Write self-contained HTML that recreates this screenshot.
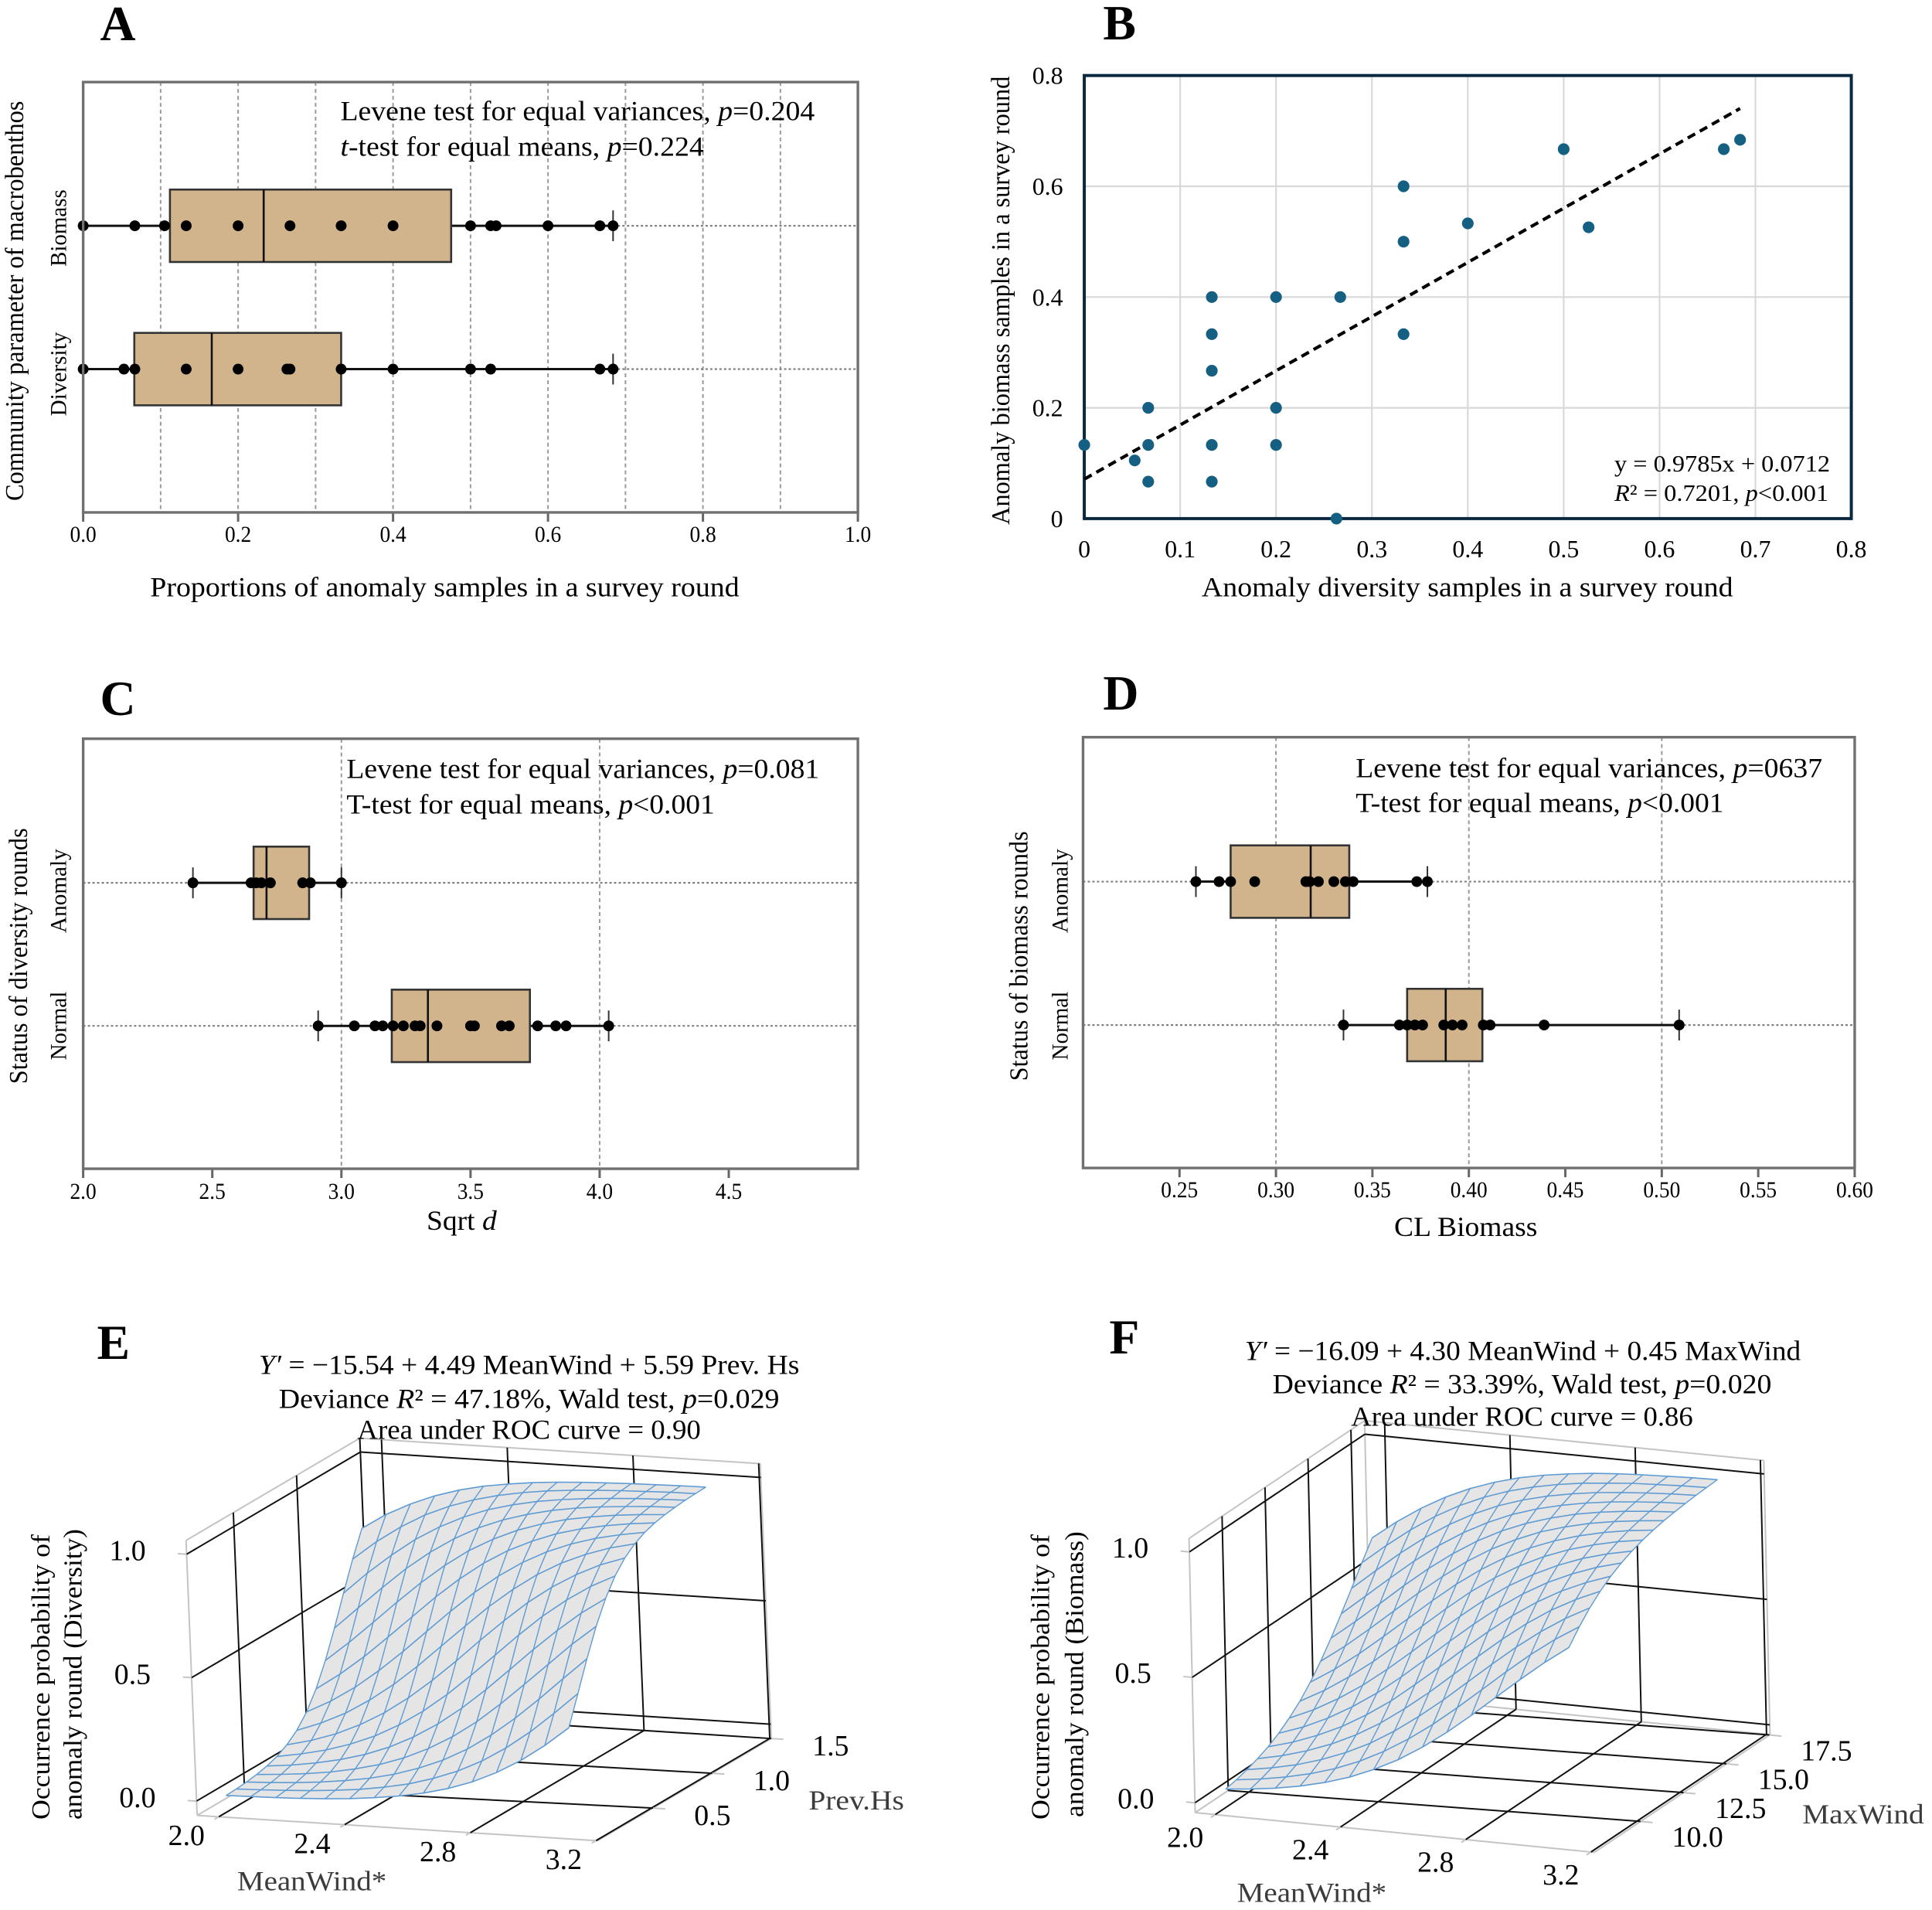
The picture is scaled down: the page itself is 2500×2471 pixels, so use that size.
<!DOCTYPE html>
<html lang="en">
<head>
<meta charset="utf-8">
<title>Anomaly survey rounds, six-panel figure</title>
<style>
html,body{margin:0;padding:0;background:#fff;}
svg{display:block;}
text{font-family:"Liberation Serif",serif;fill:#000;}
.panel-letter{font-size:64px;font-weight:bold;}
.note{font-size:36px;}
.title{font-size:36px;}
.side{font-size:34px;}
.cat{font-size:30px;}
.gray{fill:#3c3c3c;}
</style>
</head>
<body>
<svg id="figure" xmlns="http://www.w3.org/2000/svg" width="2500" height="2471" viewBox="0 0 2500 2471">
<rect width="2500" height="2471" fill="#fff"/>

<!-- Panel A -->
<g transform="scale(.9965,.9969)">
<g id="marks-a"></g>
<text class="panel-letter" x="130" y="52">A</text>
<text class="note" x="442" y="156" textLength="616" lengthAdjust="spacingAndGlyphs">Levene test for equal variances, <tspan font-style="italic">p</tspan>=0.204</text>
<text class="note" x="442" y="202" textLength="472" lengthAdjust="spacingAndGlyphs"><tspan font-style="italic">t</tspan>-test for equal means, <tspan font-style="italic">p</tspan>=0.224</text>
<text class="title" x="195" y="774" textLength="765" lengthAdjust="spacingAndGlyphs">Proportions of anomaly samples in a survey round</text>
<text class="side" transform="translate(30,650) rotate(-90)" textLength="519" lengthAdjust="spacingAndGlyphs">Community parameter of macrobenthos</text>
<text class="cat" transform="translate(86,346) rotate(-90)" textLength="100" lengthAdjust="spacingAndGlyphs">Biomass</text>
<text class="cat" transform="translate(86,540) rotate(-90)" textLength="109" lengthAdjust="spacingAndGlyphs">Diversity</text>
</g>

<!-- Panel B -->
<g transform="translate(1250,0) scale(.9965,.9969) translate(-1250,0)">
<g id="marks-b"></g>
<text class="panel-letter" x="1428" y="51">B</text>
<text class="title" x="1556" y="774" textLength="690" lengthAdjust="spacingAndGlyphs">Anomaly diversity samples in a survey round</text>
<text class="side" transform="translate(1306,681) rotate(-90)" textLength="582" lengthAdjust="spacingAndGlyphs">Anomaly biomass samples in a survey round</text>
<text x="2092" y="612" font-size="31" textLength="280" lengthAdjust="spacingAndGlyphs">y = 0.9785x + 0.0712</text>
<text x="2092" y="650" font-size="31" textLength="278" lengthAdjust="spacingAndGlyphs"><tspan font-style="italic">R</tspan>² = 0.7201, <tspan font-style="italic">p</tspan>&lt;0.001</text>
</g>

<!-- Panel C -->
<g transform="translate(0,860) scale(.9965,.997) translate(0,-860)">
<g id="marks-c"></g>
<text class="panel-letter" x="130" y="925">C</text>
<text class="note" x="450" y="1007" textLength="614" lengthAdjust="spacingAndGlyphs">Levene test for equal variances, <tspan font-style="italic">p</tspan>=0.081</text>
<text class="note" x="450" y="1053" textLength="478" lengthAdjust="spacingAndGlyphs">T-test for equal means, <tspan font-style="italic">p</tspan>&lt;0.001</text>
<text class="title" x="554" y="1593" textLength="91" lengthAdjust="spacingAndGlyphs">Sqrt <tspan font-style="italic">d</tspan></text>
<text class="side" transform="translate(35,1404) rotate(-90)" textLength="332" lengthAdjust="spacingAndGlyphs">Status of diversity rounds</text>
<text class="cat" transform="translate(86,1208) rotate(-90)" textLength="109" lengthAdjust="spacingAndGlyphs">Anomaly</text>
<text class="cat" transform="translate(86,1373) rotate(-90)" textLength="89" lengthAdjust="spacingAndGlyphs">Normal</text>
</g>

<!-- Panel D -->
<g transform="translate(1250,860) scale(.9965,.997) translate(-1250,-860)">
<g id="marks-d"></g>
<text class="panel-letter" x="1428" y="918">D</text>
<text class="note" x="1756" y="1006" textLength="606" lengthAdjust="spacingAndGlyphs">Levene test for equal variances, <tspan font-style="italic">p</tspan>=0637</text>
<text class="note" x="1756" y="1051" textLength="478" lengthAdjust="spacingAndGlyphs">T-test for equal means, <tspan font-style="italic">p</tspan>&lt;0.001</text>
<text class="title" x="1806" y="1601" textLength="186" lengthAdjust="spacingAndGlyphs">CL Biomass</text>
<text class="side" transform="translate(1330,1400) rotate(-90)" textLength="324" lengthAdjust="spacingAndGlyphs">Status of biomass rounds</text>
<text class="cat" transform="translate(1382,1208) rotate(-90)" textLength="109" lengthAdjust="spacingAndGlyphs">Anomaly</text>
<text class="cat" transform="translate(1382,1373) rotate(-90)" textLength="89" lengthAdjust="spacingAndGlyphs">Normal</text>
</g>

<!-- Panel E -->
<g>
<g id="marks-e" transform="translate(0,1680) scale(.9965,.997) translate(0,-1680)"></g>
<g id="surface-e"></g>
<g transform="translate(0,1680) scale(.9965,.997) translate(0,-1680)">
<text class="panel-letter" x="126" y="1758">E</text>
<text class="title" x="336" y="1778" textLength="702" lengthAdjust="spacingAndGlyphs"><tspan font-style="italic">Y′</tspan> = −15.54 + 4.49 MeanWind + 5.59 Prev. Hs</text>
<text class="title" x="362" y="1822" textLength="650" lengthAdjust="spacingAndGlyphs">Deviance <tspan font-style="italic">R</tspan>² = 47.18%, Wald test, <tspan font-style="italic">p</tspan>=0.029</text>
<text class="title" x="464" y="1862" textLength="446" lengthAdjust="spacingAndGlyphs">Area under ROC curve = 0.90</text>
<text class="side" transform="translate(64,2356) rotate(-90)" textLength="370" lengthAdjust="spacingAndGlyphs">Occurrence probability of</text>
<text class="side" transform="translate(106,2356) rotate(-90)" textLength="377" lengthAdjust="spacingAndGlyphs">anomaly round (Diversity)</text>
<text class="title gray" x="308" y="2448" textLength="194" lengthAdjust="spacingAndGlyphs">MeanWind*</text>
<text class="title gray" x="1050" y="2343" textLength="124" lengthAdjust="spacingAndGlyphs">Prev.Hs</text>
</g>
</g>

<!-- Panel F -->
<g>
<g id="marks-f" transform="translate(1250,1680) scale(.9965,.997) translate(-1250,-1680)"></g>
<g id="surface-f"></g>
<g transform="translate(1250,1680) scale(.9965,.997) translate(-1250,-1680)">
<text class="panel-letter" x="1436" y="1751">F</text>
<text class="title" x="1612" y="1760" textLength="722" lengthAdjust="spacingAndGlyphs"><tspan font-style="italic">Y′</tspan> = −16.09 + 4.30 MeanWind + 0.45 MaxWind</text>
<text class="title" x="1648" y="1803" textLength="648" lengthAdjust="spacingAndGlyphs">Deviance <tspan font-style="italic">R</tspan>² = 33.39%, Wald test, <tspan font-style="italic">p</tspan>=0.020</text>
<text class="title" x="1750" y="1845" textLength="444" lengthAdjust="spacingAndGlyphs">Area under ROC curve = 0.86</text>
<text class="side" transform="translate(1358,2356) rotate(-90)" textLength="370" lengthAdjust="spacingAndGlyphs">Occurrence probability of</text>
<text class="side" transform="translate(1402,2353) rotate(-90)" textLength="371" lengthAdjust="spacingAndGlyphs">anomaly round (Biomass)</text>
<text class="title gray" x="1602" y="2463" textLength="194" lengthAdjust="spacingAndGlyphs">MeanWind*</text>
<text class="title gray" x="2336" y="2361" textLength="158" lengthAdjust="spacingAndGlyphs">MaxWind</text>
</g>
</g>
</svg>

<script>
// ---------- Panel A data ----------
const aBiomassBox = [0.112, 0.233, 0.475];
const aBiomassWhisker = [0, 0.684];
const aBiomassPoints = [0, 0.0667, 0.105, 0.133, 0.2, 0.267, 0.333, 0.4, 0.5, 0.526, 0.533, 0.6, 0.667, 0.684];
const aDiversityBox = [0.066, 0.166, 0.333];
const aDiversityWhisker = [0, 0.684];
const aDiversityPoints = [0, 0.0526, 0.0667, 0.133, 0.2, 0.263, 0.267, 0.333, 0.4, 0.5, 0.526, 0.667, 0.684];
const aGridValues = [0.1, 0.2, 0.3, 0.4, 0.5, 0.6, 0.7, 0.8, 0.9];
const aTickValues = [0.0, 0.2, 0.4, 0.6, 0.8, 1.0];

// ---------- Panel B data ----------
const bDiversity = [0, 0.0526, 0.0667, 0.0667, 0.0667, 0.133, 0.133, 0.133, 0.133, 0.133, 0.2, 0.2, 0.2, 0.263, 0.267, 0.333, 0.333, 0.333, 0.4, 0.5, 0.526, 0.667, 0.684];
const bBiomass = [0.133, 0.105, 0.0667, 0.133, 0.2, 0.0667, 0.133, 0.267, 0.333, 0.4, 0.133, 0.2, 0.4, 0, 0.4, 0.333, 0.5, 0.6, 0.533, 0.667, 0.526, 0.667, 0.684];
const bTrendCoefficients = [0.9785, 0.0712];
const bTrendRange = [0, 0.684];
const bXTicks = [0, 0.1, 0.2, 0.3, 0.4, 0.5, 0.6, 0.7, 0.8];
const bYTicks = [0, 0.2, 0.4, 0.6, 0.8];

// ---------- Panel C data ----------
const cAnomalyBox = [2.66, 2.71, 2.875];
const cAnomalyWhisker = [2.425, 3.0];
const cAnomalyPoints = [2.425, 2.65, 2.67, 2.69, 2.725, 2.85, 2.88, 3.0];
const cNormalBox = [3.195, 3.335, 3.73];
const cNormalWhisker = [2.91, 4.035];
const cNormalPoints = [2.91, 3.05, 3.13, 3.16, 3.2, 3.24, 3.285, 3.305, 3.37, 3.5, 3.515, 3.62, 3.65, 3.76, 3.83, 3.87, 4.035];
const cGridValues = [3.0, 4.0];
const cTickValues = [2.0, 2.5, 3.0, 3.5, 4.0, 4.5];

// ---------- Panel D data ----------
const dAnomalyBox = [0.2765, 0.318, 0.338];
const dAnomalyWhisker = [0.2585, 0.3785];
const dAnomalyPoints = [0.2585, 0.2705, 0.2765, 0.289, 0.3155, 0.3175, 0.322, 0.33, 0.336, 0.34, 0.373, 0.3785];
const dNormalBox = [0.368, 0.388, 0.407];
const dNormalWhisker = [0.335, 0.509];
const dNormalPoints = [0.335, 0.364, 0.368, 0.372, 0.376, 0.387, 0.3915, 0.3965, 0.4075, 0.411, 0.439, 0.509];
const dGridValues = [0.30, 0.40, 0.50];
const dTickValues = [0.25, 0.30, 0.35, 0.40, 0.45, 0.50, 0.55, 0.60];

// ---------- Panel E data ----------
const eMeanWindGrid = [1.984, 2.062, 2.141, 2.219, 2.298, 2.376, 2.454, 2.533, 2.611, 2.690, 2.768, 2.846, 2.925, 3.003, 3.082];
const ePrevHsGrid = [0.133, 0.219, 0.305, 0.391, 0.478, 0.564, 0.650, 0.736, 0.823, 0.909, 0.995, 1.081, 1.167, 1.254, 1.340];
const eProbability = [
[.004,.006,.008,.011,.016,.023,.033,.046,.064,.089,.122,.166,.221,.288,.366],
[.006,.009,.013,.018,.026,.036,.051,.071,.099,.135,.182,.241,.312,.393,.480],
[.010,.014,.020,.029,.041,.057,.079,.110,.149,.200,.263,.337,.421,.509,.596],
[.016,.023,.032,.045,.064,.088,.121,.165,.219,.286,.364,.449,.537,.624,.703],
[.026,.036,.051,.071,.098,.134,.181,.240,.310,.391,.478,.566,.650,.726,.791],
[.040,.057,.079,.109,.148,.199,.261,.335,.418,.506,.594,.676,.748,.809,.858],
[.063,.087,.120,.163,.218,.284,.361,.446,.535,.621,.701,.769,.826,.872,.906],
[.097,.133,.179,.238,.308,.388,.475,.563,.648,.724,.789,.842,.884,.916,.939],
[.147,.197,.259,.333,.416,.504,.591,.674,.746,.808,.857,.895,.924,.945,.961],
[.216,.282,.359,.444,.532,.619,.698,.768,.825,.870,.906,.932,.951,.965,.975],
[.306,.386,.473,.561,.646,.722,.788,.841,.883,.915,.939,.956,.969,.978,.984],
[.413,.501,.589,.672,.745,.806,.856,.894,.923,.945,.961,.972,.980,.986,.990],
[.530,.617,.696,.766,.823,.869,.905,.931,.951,.965,.975,.982,.988,.991,.994],
[.643,.720,.786,.840,.882,.914,.938,.956,.969,.978,.984,.989,.992,.995,.996],
[.743,.805,.854,.893,.923,.945,.960,.972,.980,.986,.990,.993,.995,.997,.998]
];
const eXTicks = [2.0, 2.4, 2.8, 3.2];
const eDepthTicks = [0.5, 1.0, 1.5];
const eZTicks = [0.0, 0.5, 1.0];

// ---------- Panel F data ----------
const fMeanWindGrid = [1.984, 2.063, 2.142, 2.221, 2.300, 2.379, 2.457, 2.536, 2.615, 2.694, 2.773, 2.852, 2.931, 3.010, 3.089];
const fMaxWindGrid = [8.18, 8.80, 9.42, 10.04, 10.66, 11.28, 11.90, 12.53, 13.15, 13.77, 14.39, 15.01, 15.63, 16.25, 16.88];
const fProbability = [
[.027,.037,.050,.068,.092,.123,.163,.212,.272,.341,.418,.499,.580,.657,.727],
[.035,.048,.066,.089,.119,.158,.207,.266,.334,.410,.491,.572,.650,.720,.781],
[.047,.064,.086,.116,.154,.201,.259,.327,.402,.483,.564,.642,.713,.775,.827],
[.062,.084,.113,.150,.196,.253,.320,.394,.475,.556,.635,.707,.770,.822,.865],
[.081,.109,.146,.191,.247,.312,.387,.466,.548,.627,.700,.764,.818,.861,.896],
[.106,.141,.186,.241,.305,.379,.458,.540,.619,.693,.758,.813,.857,.893,.920],
[.138,.181,.235,.298,.371,.450,.531,.611,.686,.752,.807,.853,.890,.918,.939],
[.176,.229,.292,.363,.442,.523,.603,.679,.745,.802,.849,.886,.915,.938,.954],
[.223,.285,.356,.434,.515,.596,.671,.739,.797,.845,.883,.913,.936,.953,.965],
[.278,.348,.426,.507,.588,.664,.733,.792,.840,.880,.910,.934,.951,.964,.974],
[.341,.417,.498,.580,.657,.726,.786,.836,.876,.907,.932,.950,.963,.973,.980],
[.410,.490,.571,.649,.720,.781,.831,.873,.905,.929,.948,.962,.972,.980,.985],
[.482,.563,.642,.713,.775,.827,.869,.902,.927,.946,.961,.971,.979,.985,.989],
[.555,.634,.706,.769,.822,.865,.899,.925,.945,.960,.970,.979,.984,.989,.992],
[.626,.699,.763,.817,.861,.896,.923,.943,.958,.970,.978,.984,.988,.992,.994]
];
const fXTicks = [2.0, 2.4, 2.8, 3.2];
const fDepthTicks = [10.0, 12.5, 15.0, 17.5];
const fZTicks = [0.0, 0.5, 1.0];

// ---------- Drawing helpers ----------
const NS = 'http://www.w3.org/2000/svg';
function mk(parent, tag, name, attrs, text) {
  const e = document.createElementNS(NS, tag);
  
  
  for (const k in attrs) e.setAttribute(k, attrs[k]);
  if (text !== undefined) e.textContent = text;
  parent.appendChild(e);
  return e;
}
function line(parent, name, x1, y1, x2, y2, stroke, width, dash) {
  const a = {x1: x1, y1: y1, x2: x2, y2: y2, stroke: stroke, 'stroke-width': width};
  if (dash) a['stroke-dasharray'] = dash;
  return mk(parent, 'line', name, a);
}
function linear(d0, d1, r0, r1) {
  return v => r0 + (v - d0) * (r1 - r0) / (d1 - d0);
}

// ---------- Horizontal box plot panels ----------
function boxPanel(c) {
  const g = document.getElementById(c.id);
  const sx = linear(c.domain[0], c.domain[1], c.left, c.right);
  c.gridValues.forEach(v => {
    line(g, 'vertical-gridline', sx(v), c.top, sx(v), c.bottom, '#9a9a9a', 2, '5 4');
  });
  c.tickValues.forEach(v => {
    line(g, 'x-axis-tick', sx(v), c.bottom, sx(v), c.bottom + 12, '#666', 3);
    const label = v.toFixed(c.digits);
    const widthEm = (label.length - 1) * 0.5 + 0.25;
    mk(g, 'text', 'x-tick-label', {
      x: sx(v), y: c.tickBaseline, 'text-anchor': 'middle', 'font-size': 30,
      textLength: (widthEm * 27.5).toFixed(1), lengthAdjust: 'spacingAndGlyphs'
    }, label);
  });
  c.groups.forEach(s => {
    const cy = s.y;
    const lo = sx(s.whisker[0]), hi = sx(s.whisker[1]);
    if (lo > c.left + 1) line(g, 'group-reference-line-left', c.left, cy, lo, cy, '#808080', 2.2, '3 3');
    line(g, 'group-reference-line-right', hi, cy, c.right, cy, '#808080', 2.2, '3 3');
    line(g, 'whisker-line', lo, cy, hi, cy, '#111', 3);
    line(g, 'whisker-cap-low', lo, cy - 20, lo, cy + 20, '#333', 2);
    line(g, 'whisker-cap-high', hi, cy - 20, hi, cy + 20, '#333', 2);
    mk(g, 'rect', 'box-' + s.name, {
      x: sx(s.box[0]), y: cy - c.half, width: sx(s.box[2]) - sx(s.box[0]), height: c.half * 2,
      fill: '#d2b48c', stroke: '#333', 'stroke-width': 2.6
    });
    line(g, 'median-line-' + s.name, sx(s.box[1]), cy - c.half, sx(s.box[1]), cy + c.half, '#111', 2.6);
    s.points.forEach(p => {
      mk(g, 'circle', 'data-point-' + s.name, {cx: sx(p), cy: cy, r: 7, fill: '#000'});
    });
  });
  mk(g, 'rect', 'plot-frame', {
    x: c.left, y: c.top, width: c.right - c.left, height: c.bottom - c.top,
    fill: 'none', stroke: '#707070', 'stroke-width': 3.4
  });
}

boxPanel({
  id: 'marks-a', left: 108, right: 1114, top: 106.5, bottom: 665, domain: [0, 1],
  half: 47, gridValues: aGridValues, tickValues: aTickValues, digits: 1, tickBaseline: 703,
  groups: [
    {name: 'biomass', y: 293, box: aBiomassBox, whisker: aBiomassWhisker, points: aBiomassPoints},
    {name: 'diversity', y: 479, box: aDiversityBox, whisker: aDiversityWhisker, points: aDiversityPoints}
  ]
});
boxPanel({
  id: 'marks-c', left: 108, right: 1114, top: 956, bottom: 1514, domain: [2, 5],
  half: 47, gridValues: cGridValues, tickValues: cTickValues, digits: 1, tickBaseline: 1553,
  groups: [
    {name: 'anomaly', y: 1143, box: cAnomalyBox, whisker: cAnomalyWhisker, points: cAnomalyPoints},
    {name: 'normal', y: 1328.6, box: cNormalBox, whisker: cNormalWhisker, points: cNormalPoints}
  ]
});
boxPanel({
  id: 'marks-d', left: 1402, right: 2404, top: 954, bottom: 1513, domain: [0.2, 0.6],
  half: 47, gridValues: dGridValues, tickValues: dTickValues, digits: 2, tickBaseline: 1551,
  groups: [
    {name: 'anomaly', y: 1141.4, box: dAnomalyBox, whisker: dAnomalyWhisker, points: dAnomalyPoints},
    {name: 'normal', y: 1327.5, box: dNormalBox, whisker: dNormalWhisker, points: dNormalPoints}
  ]
});

// ---------- Panel B scatter ----------
(function () {
  const g = document.getElementById('marks-b');
  const sx = linear(0, 0.8, 1403.6, 2399.6);
  const sy = linear(0, 0.8, 673, 98);
  const fmt = v => (v === 0 ? '0' : String(v));
  bXTicks.forEach(v => {
    if (v > 0 && v < 0.8) line(g, 'vertical-gridline', sx(v), sy(0), sx(v), sy(0.8), '#d9d9d9', 2.2);
    mk(g, 'text', 'x-tick-label', {x: sx(v), y: 723, 'text-anchor': 'middle', 'font-size': 32}, fmt(v));
  });
  bYTicks.forEach(v => {
    if (v > 0 && v < 0.8) line(g, 'horizontal-gridline', sx(0), sy(v), sx(0.8), sy(v), '#d9d9d9', 2.2);
    mk(g, 'text', 'y-tick-label', {x: 1376, y: sy(v) + 11, 'text-anchor': 'end', 'font-size': 32}, fmt(v));
  });
  mk(g, 'rect', 'plot-frame', {
    x: sx(0), y: sy(0.8), width: sx(0.8) - sx(0), height: sy(0) - sy(0.8),
    fill: 'none', stroke: '#0b2840', 'stroke-width': 4
  });
  const t0 = bTrendRange[0], t1 = bTrendRange[1];
  const trendY = v => bTrendCoefficients[0] * v + bTrendCoefficients[1];
  line(g, 'trend-line', sx(t0), sy(trendY(t0)), sx(t1), sy(trendY(t1)), '#000', 4.2, '11 7');
  bDiversity.forEach((v, i) => {
    mk(g, 'circle', 'data-point', {cx: sx(v), cy: sy(bBiomass[i]), r: 7.6, fill: '#156082'});
  });
})();

// ---------- 3-D surface panels ----------
function surfacePanel(c) {
  const g = document.getElementById(c.id);
  const sg = document.getElementById(c.surfaceId);
  const U = linear(c.xDomain[0], c.xDomain[1], 0, 1);
  const V = linear(c.dDomain[0], c.dDomain[1], 0, 1);
  const W = linear(c.zDomain[0], c.zDomain[1], 0, 1);
  const P = (u, v, w) => [
    c.o[0] + u * c.ex[0] + v * c.ey[0] + w * c.ez[0],
    c.o[1] + u * c.ex[1] + v * c.ey[1] + w * c.ez[1]
  ];
  const seg = (name, a, b, col, wd) => line(g, name, a[0], a[1], b[0], b[1], col, wd);
  const light = '#c4c4c4';
  // light box outline
  seg('box-edge', P(0, 0, 0), P(1, 0, 0), light, 2);
  seg('box-edge', P(1, 0, 0), P(1, 1, 0), light, 2);
  seg('box-edge', P(0, 1, 0), P(1, 1, 0), light, 2);
  seg('box-edge', P(0, 0, 0), P(0, 1, 0), light, 2);
  seg('box-edge', P(0, 0, 0), P(0, 0, 1), light, 2);
  seg('box-edge', P(0, 0, 1), P(0, 1, 1), light, 2);
  seg('box-edge', P(0, 1, 1), P(1, 1, 1), light, 2);
  seg('box-edge', P(1, 1, 0), P(1, 1, 1), light, 2);
  seg('box-edge', P(0, 1, 0), P(0, 1, 1), light, 2);
  // black grid on floor and walls
  const black = '#111';
  c.xTicks.forEach(x => {
    const u = U(x);
    seg('floor-gridline-x', P(u, 0, 0), P(u, 1, 0), black, 2);
    seg('back-wall-gridline-x', P(u, 1, 0), P(u, 1, 1), black, 2);
    seg('x-axis-tick', P(u, 0, 0), P(u, -0.025, 0), light, 2);
    const a = P(u, 0, 0);
    mk(g, 'text', 'x-tick-label', {x: a[0] + c.xLabel[0], y: a[1] + c.xLabel[1], 'text-anchor': 'middle', 'font-size': 38}, x.toFixed(1));
  });
  c.dTicks.forEach(d => {
    const v = V(d);
    const vLeft = c.leftDepth(v);
    seg('floor-gridline-depth', P(0, vLeft, 0), P(1, v, 0), black, 2);
    seg('left-wall-gridline-depth', P(0, vLeft, 0), P(0, vLeft, 1), black, 2);
    seg('depth-axis-tick', P(1, v, 0), P(1.03, v, 0), light, 2);
    const a = P(1, v, 0);
    mk(g, 'text', 'depth-tick-label', {x: a[0] + c.dLabel[0], y: a[1] + c.dLabel[1], 'text-anchor': 'middle', 'font-size': 38}, d.toFixed(1));
  });
  c.zTicks.forEach(z => {
    const w = W(z);
    seg('left-wall-gridline-z', P(0, 0, w), P(0, 1, w), black, 2);
    seg('back-wall-gridline-z', P(0, 1, w), P(1, 1, w), black, 2);
    seg('z-axis-tick', P(0, 0, w), P(-0.022, 0, w), light, 2);
    const a = P(0, 0, w);
    mk(g, 'text', 'z-tick-label', {x: a[0] + c.zLabel[0], y: a[1] + c.zLabel[1], 'text-anchor': 'end', 'font-size': 38}, z.toFixed(1));
  });
  // surface
  const S = (i, j) => P(U(c.xs[i]), V(c.ds[j]), W(c.z[j][i]));
  const nx = c.xs.length, nd = c.ds.length;
  for (let j = nd - 2; j >= 0; j--) {
    for (let i = 0; i < nx - 1; i++) {
      const pts = [S(i, j), S(i + 1, j), S(i + 1, j + 1), S(i, j + 1)].map(p => p[0].toFixed(1) + ',' + p[1].toFixed(1)).join(' ');
      mk(sg, 'polygon', 'surface-cell', {points: pts, fill: '#e5e5e5', stroke: '#e5e5e5', 'stroke-width': 0.6});
    }
  }
  for (let j = 0; j < nd; j++) {
    const pts = c.xs.map((_, i) => S(i, j).map(n => n.toFixed(1)).join(',')).join(' ');
    mk(sg, 'polyline', 'surface-mesh-line-along-x', {points: pts, fill: 'none', stroke: '#5f9bd3', 'stroke-width': 1.6});
  }
  for (let i = 0; i < nx; i++) {
    const pts = c.ds.map((_, j) => S(i, j).map(n => n.toFixed(1)).join(',')).join(' ');
    mk(sg, 'polyline', 'surface-mesh-line-along-depth', {points: pts, fill: 'none', stroke: '#5f9bd3', 'stroke-width': 1.4});
  }
}

surfacePanel({
  id: 'marks-e', surfaceId: 'surface-e',
  o: [256, 2350.6], ex: [520, 32.9], ey: [225.6, -132.6], ez: [-14.4, -356.8],
  xDomain: [1.931, 3.205], dDomain: [0.03, 1.5], zDomain: [-0.058, 1.056],
  xs: eMeanWindGrid, ds: ePrevHsGrid, z: eProbability,
  xTicks: eXTicks, dTicks: eDepthTicks, zTicks: eZTicks,
  leftDepth: v => v - 0.07 * (1 - v),
  xLabel: [-42, 37], dLabel: [77, 22], zLabel: [-53, 8]
});
surfacePanel({
  id: 'marks-f', surfaceId: 'surface-f',
  o: [1547.6, 2347], ex: [518.4, 51.6], ey: [228, -152.8], ez: [-8, -355.8],
  xDomain: [1.936, 3.211], dDomain: [7.31, 17.53], zDomain: [-0.039, 1.054],
  xs: fMeanWindGrid, ds: fMaxWindGrid, z: fProbability,
  xTicks: fXTicks, dTicks: fDepthTicks, zTicks: fZTicks,
  leftDepth: v => v - 0.075,
  xLabel: [-39, 42], dLabel: [74, 33], zLabel: [-53, 7]
});
</script>
</body>
</html>
